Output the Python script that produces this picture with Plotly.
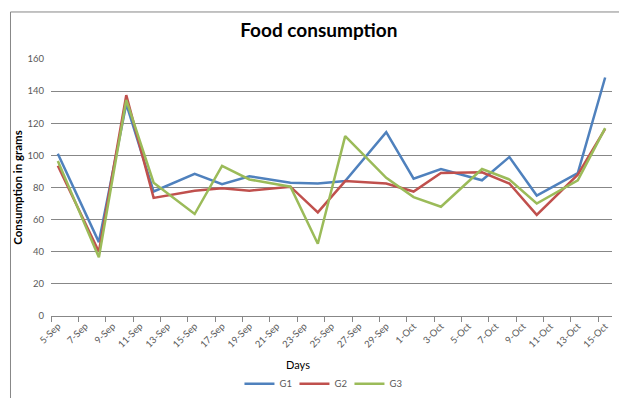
import plotly.graph_objects as go

dates = ["2016-09-05", "2016-09-08", "2016-09-10", "2016-09-12", "2016-09-15",
         "2016-09-17", "2016-09-19", "2016-09-22", "2016-09-24", "2016-09-26",
         "2016-09-29", "2016-10-01", "2016-10-03", "2016-10-06", "2016-10-08",
         "2016-10-10", "2016-10-13", "2016-10-15"]
g1 = [101, 46, 132, 77.5, 88.5, 82, 87, 83, 82.5, 84, 114.5, 85.5, 91.5, 84.5, 99, 75, 89, 148.5]
g2 = [93.5, 40, 137.5, 73.5, 78, 79.5, 78, 80.5, 64.5, 84, 82.5, 77.5, 89, 89.5, 82.5, 63, 88, 116.5]
g3 = [96.5, 36.5, 134.5, 83, 63.5, 93.5, 85, 80.5, 45, 112, 86, 74, 68, 91.5, 85, 70, 84.5, 117]

series = [("G1", g1, "#4F81BD"), ("G2", g2, "#C0504D"), ("G3", g3, "#9BBB59")]

FONT = "Lato"
GRID = "#878787"
DAY = 86400000

fig = go.Figure()
for name, vals, col in series:
    fig.add_trace(go.Scatter(x=dates, y=vals, name=name, mode="lines",
                             line=dict(color=col, width=2.5)))

fig.update_layout(
    width=619, height=398,
    margin=dict(l=51, r=7, t=59, b=82),
    paper_bgcolor="white", plot_bgcolor="white",
    font=dict(family=FONT, size=9, color="#595959"),
    title=dict(text="<b>Food consumption</b>", x=0.515, xanchor="center",
               y=0.923, yanchor="middle", xref="container",
               font=dict(family=FONT, size=19, color="black")),
    showlegend=True,
    legend=dict(orientation="h", x=0.483, xanchor="center",
                yref="container", y=0.036, yanchor="middle",
                font=dict(family=FONT, size=9.5, color="#595959"),
                itemwidth=30, tracegroupgap=0, entrywidth=10, entrywidthmode="pixels"),
    xaxis=dict(
        type="date", automargin=False,
        range=["2016-09-04 12:00", "2016-10-15 12:00"],
        tick0="2016-09-05", dtick=2 * DAY, tickformat="%-d-%b",
        tickangle=-45, ticks="", showgrid=False, zeroline=False,
        showline=True, linecolor=GRID, linewidth=1,
        tickfont=dict(family=FONT, size=9.5, color="#595959"),
        minor=dict(tick0="2016-09-04 12:00", dtick=2 * DAY, ticks="outside",
                   ticklen=5, tickcolor=GRID, showgrid=False),
        fixedrange=True,
    ),
    yaxis=dict(
        automargin=False,
        range=[0, 160], dtick=20, showgrid=True, gridcolor=GRID, gridwidth=1,
        zeroline=False, showline=False, ticks="", ticklabelstandoff=6,
        tickfont=dict(family=FONT, size=9.5, color="#595959"),
        title=dict(text="<b>Consumption in grams</b>", standoff=2,
                   font=dict(family=FONT, size=11.5, color="black")),
        fixedrange=True,
    ),
    annotations=[dict(text="Days", xref="paper", yref="paper", x=0.44, y=-0.19,
                      xanchor="center", yanchor="middle", showarrow=False,
                      font=dict(family=FONT, size=11, color="black"))],
)

# outer chart-area border (extends past the cropped right/bottom edges)
fig.add_shape(type="rect", xref="paper", yref="paper",
              x0=-0.0722, x1=1.05, y0=-0.4, y1=1.183,
              line=dict(color=GRID, width=1), fillcolor="rgba(0,0,0,0)", layer="below")

fig.write_html("out.html")
